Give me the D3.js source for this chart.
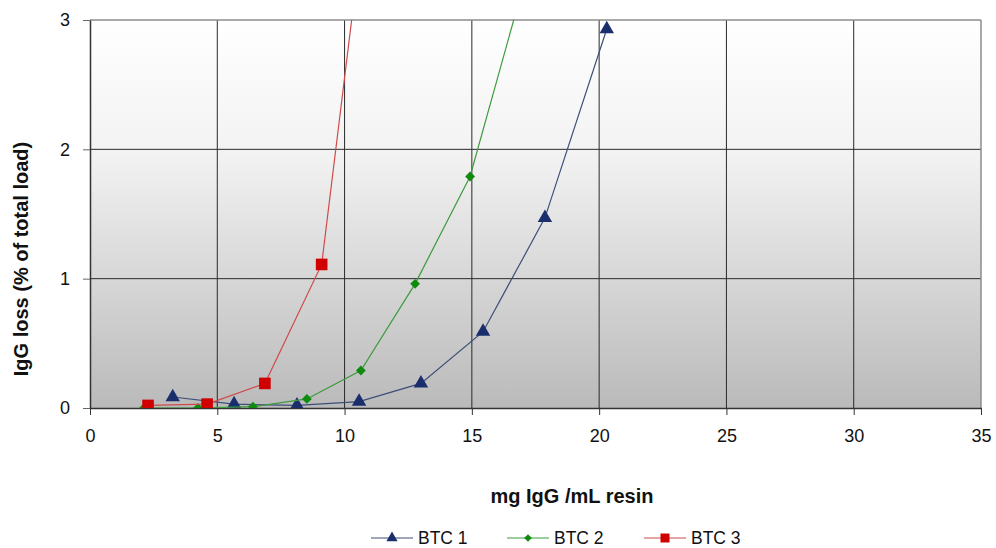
<!DOCTYPE html>
<html>
<head>
<meta charset="utf-8">
<script src="https://cdn.jsdelivr.net/npm/d3@7"></script>
<style>
  body { margin: 0; background: #fff; }
  text { font-family: "Liberation Sans", Arial, sans-serif; }
</style>
</head>
<body>
<div id="canvas"></div>
<script>
const canvWidth = 996, canvHeight = 548;

// data
const seriesNames = ["BTC 1", "BTC 2", "BTC 3"];
const btc1 = [[3.25, 0.085], [5.66, 0.03], [8.13, 0.02], [10.57, 0.05], [13.0, 0.19], [15.44, 0.59], [17.87, 1.47], [20.3, 2.93]];
const btc2 = [[2.12, 0.0], [4.24, 0.0], [6.4, 0.01], [8.52, 0.07], [10.64, 0.29], [12.77, 0.96], [14.93, 1.79], [17.07, 3.3]];
const btc3 = [[2.28, 0.02], [4.6, 0.03], [6.87, 0.19], [9.1, 1.11], [11.4, 4.8]];
const xTicks = [0, 5, 10, 15, 20, 25, 30, 35];
const yTicks = [0, 1, 2, 3];

const margin = {top: 20, right: 15, bottom: 140, left: 90};
const width = canvWidth - margin.left - margin.right;
const height = canvHeight - margin.top - margin.bottom;

const svg = d3.select("#canvas").append("svg")
    .attr("width", canvWidth)
    .attr("height", canvHeight);

const defs = svg.append("defs");
const grad = defs.append("linearGradient")
    .attr("id", "bg").attr("x1", 0).attr("y1", 0).attr("x2", 0).attr("y2", 1);
grad.append("stop").attr("offset", "0%").attr("stop-color", "#ffffff");
grad.append("stop").attr("offset", "35%").attr("stop-color", "#f2f2f2");
grad.append("stop").attr("offset", "100%").attr("stop-color", "#bababa");

defs.append("clipPath").attr("id", "plotclip")
  .append("rect").attr("width", width).attr("height", height);

const x = d3.scaleLinear().domain([0, 35]).range([0, width]);
const y = d3.scaleLinear().domain([0, 3]).range([height, 0]);

const g = svg.append("g")
    .attr("transform", "translate(" + margin.left + "," + margin.top + ")");

g.append("rect")
    .attr("width", width).attr("height", height)
    .attr("fill", "url(#bg)");

// grid
g.append("g")
    .selectAll("line.vx")
    .data(xTicks.slice(1, -1))
    .enter().append("line")
    .attr("x1", d => x(d)).attr("x2", d => x(d))
    .attr("y1", 0).attr("y2", height)
    .attr("stroke", "#2a2a2a").attr("stroke-width", 1);

g.append("g")
    .selectAll("line.hy")
    .data(yTicks.slice(1, -1))
    .enter().append("line")
    .attr("y1", d => y(d)).attr("y2", d => y(d))
    .attr("x1", 0).attr("x2", width)
    .attr("stroke", "#2a2a2a").attr("stroke-width", 1);

// plot border
g.append("line").attr("x1", 0).attr("x2", width).attr("y1", 0).attr("y2", 0)
    .attr("stroke", "#8c8c8c").attr("stroke-width", 1.5);
g.append("line").attr("x1", width).attr("x2", width).attr("y1", 0).attr("y2", height)
    .attr("stroke", "#8c8c8c").attr("stroke-width", 1.5);

// axes
const xAxis = g.append("g")
    .attr("transform", "translate(0," + height + ")")
    .call(d3.axisBottom(x).tickValues(xTicks).tickSize(7).tickPadding(14).tickSizeOuter(0));
const yAxis = g.append("g")
    .call(d3.axisLeft(y).tickValues(yTicks).tickFormat(d3.format("d")).tickSize(7).tickPadding(13).tickSizeOuter(0));

[xAxis, yAxis].forEach(a => {
  a.select(".domain").attr("stroke", "#333").attr("stroke-width", 1.5);
  a.selectAll(".tick line").attr("stroke", "#333");
  a.selectAll(".tick text")
    .attr("fill", "#111")
    .style("font-size", "18px")
    .style("font-family", "'Liberation Sans', Arial, sans-serif");
});
yAxis.selectAll(".tick line").attr("stroke", "#666");

// series
const series = [
  {name: seriesNames[0], data: btc1, line: "#3d4e78", fill: "#1a2e6e", shape: d3.symbolTriangle, size: 90, rot: 0},
  {name: seriesNames[1], data: btc2, line: "#3d9a3d", fill: "#0e8a0e", shape: d3.symbolSquare, size: 48, rot: 45},
  {name: seriesNames[2], data: btc3, line: "#d04a4a", fill: "#d00000", shape: d3.symbolSquare, size: 135, rot: 0}
];

const line = d3.line().x(d => x(d[0])).y(d => y(d[1]));

const plot = g.append("g").attr("clip-path", "url(#plotclip)");

series.forEach(s => {
  plot.append("path")
      .datum(s.data)
      .attr("fill", "none")
      .attr("stroke", s.line)
      .attr("stroke-width", 1.2)
      .attr("d", line);
  plot.selectAll(null)
      .data(s.data)
      .enter().append("path")
      .attr("transform", d => "translate(" + x(d[0]) + "," + y(d[1]) + ") rotate(" + s.rot + ")")
      .attr("d", d3.symbol().type(s.shape).size(s.size))
      .attr("fill", s.fill);
});

// axis titles
svg.append("text")
    .attr("x", 572)
    .attr("y", 503)
    .attr("text-anchor", "middle")
    .style("font-size", "20px")
    .style("font-weight", "bold")
    .attr("fill", "#111")
    .text("mg IgG /mL resin");

svg.append("text")
    .attr("transform", "translate(28,259) rotate(-90)")
    .attr("text-anchor", "middle")
    .style("font-size", "20px")
    .style("font-weight", "bold")
    .attr("fill", "#111")
    .text("IgG loss (% of total load)");

// legend
const legendX = [371, 507, 644];
const leg = svg.append("g");
series.forEach((s, i) => {
  const lg = leg.append("g").attr("transform", "translate(" + legendX[i] + ",538)");
  lg.append("line").attr("x1", 0).attr("x2", 42).attr("y1", 0).attr("y2", 0)
      .attr("stroke", s.line).attr("stroke-width", 1.2);
  lg.append("path").attr("transform", "translate(21,0) rotate(" + s.rot + ")")
      .attr("d", d3.symbol().type(s.shape).size(s.size * 0.6))
      .attr("fill", s.fill);
  lg.append("text").attr("x", 47).attr("y", 6)
      .style("font-size", "17.5px").attr("fill", "#111")
      .text(s.name);
});
</script>
</body>
</html>
